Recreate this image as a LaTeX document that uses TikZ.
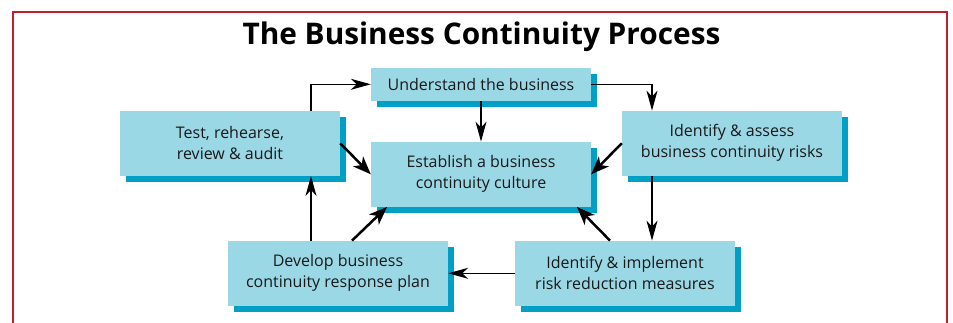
\documentclass[tikz,border=0pt]{standalone}
\usepackage{fontspec}
\setmainfont{Open Sans}
\usetikzlibrary{arrows.meta,shadows}
\definecolor{boxblue}{RGB}{155,216,230}
\definecolor{shblue}{RGB}{0,160,198}
\definecolor{framered}{RGB}{190,30,45}
\definecolor{txt}{RGB}{25,25,25}
\begin{document}
\begin{tikzpicture}[x=1pt,y=-1pt,
  box/.style={fill=boxblue, inner sep=0pt, minimum width=220pt, minimum height=65pt,
    align=center, text=txt, font=\fontsize{16}{21}\selectfont,
    drop shadow={shadow xshift=6pt, shadow yshift=-6pt, fill=shblue, opacity=1}},
  thinarrow/.style={line width=1.2pt, -{Stealth[length=20pt,width=11pt,inset=6pt]}},
  thickarrow/.style={line width=2.5pt, -{Stealth[length=18pt,width=14pt,inset=5pt]}}]
\useasboundingbox (0,0) rectangle (953,323);
\fill[white] (0,0) rectangle (953,323);
\draw[framered, line width=2pt] (13,330) -- (13,12) -- (947,12) -- (947,330);
\node[anchor=base, font=\fontsize{29.8}{36}\selectfont\bfseries] (title) at (481.5,45) {The Business Continuity Process};
\node[box, minimum height=33pt] (und) at (481,84.3) {Understand the business};
\node[box] (test) at (230,143.3) {Test, rehearse,\\review \& audit};
\node[box] (est) at (481,174.3) {Establish a business\\continuity culture};
\node[box] (ass) at (732,143.3) {Identify \& assess\\business continuity risks};
\node[box] (dev) at (338,273.3) {Develop business\\continuity response plan};
\node[box] (imp) at (625,273.3) {Identify \& implement\\risk reduction measures};
\draw[thinarrow] ([xshift=81pt]test.north) |- (und.west);
\draw[thinarrow] (und.east) -| ([xshift=-80pt]ass.north);
\draw[thinarrow] (und.south) -- (est.north);
\draw[thickarrow] (ass.west) -- (est.east);
\draw[thinarrow] ([xshift=-80pt]ass.south) -- ([xshift=-80pt]ass.south |- imp.north);
\draw[thickarrow] ([xshift=-15pt]imp.north) -- ([xshift=96pt]est.south);
\draw[thinarrow] (imp.west) -- (dev.east);
\draw[thickarrow] ([xshift=14pt]dev.north) -- ([xshift=-94pt]est.south);
\draw[thinarrow] ([xshift=-27pt]dev.north) -- ([xshift=-27pt]dev.north |- test.south);
\draw[thickarrow] (test.east) -- (est.west);
\end{tikzpicture}
\end{document}
